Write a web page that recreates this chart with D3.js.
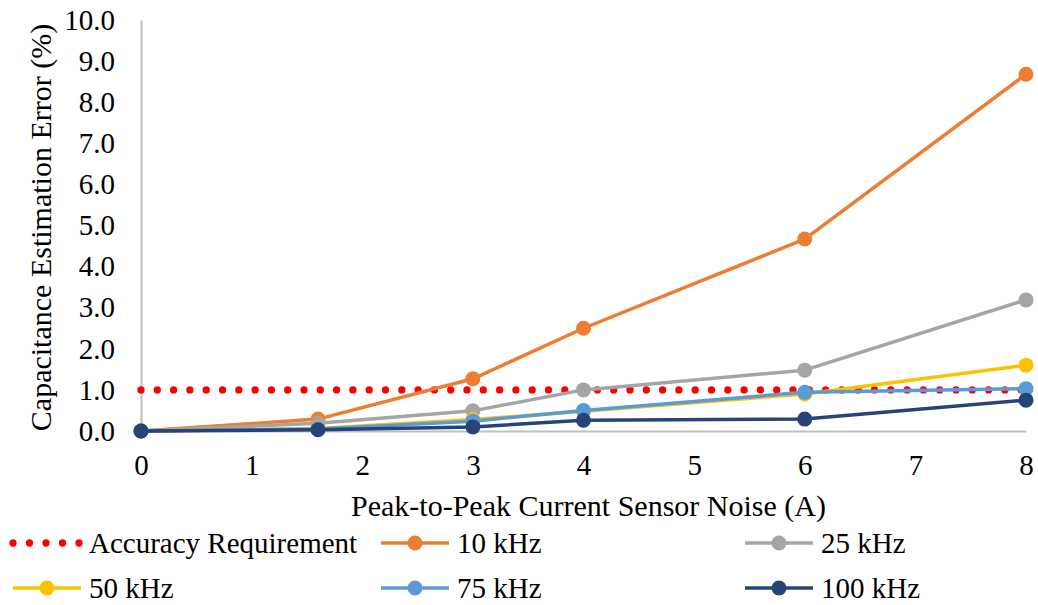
<!DOCTYPE html>
<html>
<head>
<meta charset="utf-8">
<script src="https://cdn.jsdelivr.net/npm/d3@7"></script>
<style>
  html, body { margin: 0; padding: 0; background: #fff; }
  svg { display: block; }
  text { font-family: "Liberation Serif", "Times New Roman", serif; fill: #000; }
</style>
</head>
<body>
<svg id="chart" width="1038" height="605"></svg>
<script>
// Peak-to-peak current sensor noise (A)
const noise = [0, 1.6, 3, 4, 6, 8];

// Capacitance estimation error (%) per switching frequency
const err10k  = [0, 0.29, 1.27, 2.50, 4.67, 8.68];
const err25k  = [0, 0.19, 0.49, 1.00, 1.48, 3.19];
const err50k  = [0, 0.06, 0.28, 0.48, 0.90, 1.60];
const err75k  = [0, 0.05, 0.24, 0.50, 0.94, 1.03];
const err100k = [0, 0.03, 0.10, 0.26, 0.29, 0.75];

// Accuracy requirement (%)
const requirement = 1.0;

const seriesNames  = ["10 kHz", "25 kHz", "50 kHz", "75 kHz", "100 kHz"];
const seriesValues = [err10k, err25k, err50k, err75k, err100k];
const seriesColors = ["#ED7D31", "#A5A5A5", "#FFC000", "#5B9BD5", "#264478"];

const xTicks = [0, 1, 2, 3, 4, 5, 6, 7, 8];
const yTicks = [0, 1, 2, 3, 4, 5, 6, 7, 8, 9, 10];

const svg = d3.select("#chart");
const plot = { left: 141, right: 1026, top: 20, bottom: 431 };
const FONT = "Liberation Serif, Times New Roman, serif";

const x = d3.scaleLinear().domain([0, 8]).range([plot.left, plot.right]);
const y = d3.scaleLinear().domain([0, 10]).range([plot.bottom, plot.top]);

// Axes (no tick marks, light gray axis lines)
const xAxis = svg.append("g")
  .attr("transform", `translate(0,${plot.bottom})`)
  .call(d3.axisBottom(x).tickValues(xTicks).tickFormat(d3.format("d")).tickSize(0).tickPadding(23));
const yAxis = svg.append("g")
  .attr("transform", `translate(${plot.left},0)`)
  .call(d3.axisLeft(y).tickValues(yTicks).tickFormat(d3.format(".1f")).tickSize(0).tickPadding(26));

[xAxis, yAxis].forEach(g => {
  g.attr("font-family", FONT).attr("font-size", 29);
  g.select(".domain").attr("stroke", "#BFBFBF").attr("stroke-width", 2);
  g.selectAll("text").attr("fill", "#000");
});

// Axis titles
svg.append("text")
  .attr("x", (plot.left + plot.right) / 2 + 5)
  .attr("y", 516)
  .attr("text-anchor", "middle")
  .style("font-size", "30px")
  .text("Peak-to-Peak Current Sensor Noise (A)");

svg.append("text")
  .attr("transform", `translate(51,${(plot.top + plot.bottom) / 2 + 2}) rotate(-90)`)
  .attr("text-anchor", "middle")
  .style("font-size", "30px")
  .text("Capacitance Estimation Error (%)");

// Accuracy requirement line (dotted)
svg.append("line")
  .attr("x1", x(0)).attr("x2", x(8))
  .attr("y1", y(requirement)).attr("y2", y(requirement))
  .attr("stroke", "#FF0000")
  .attr("stroke-width", 7.3)
  .attr("stroke-linecap", "round")
  .attr("stroke-dasharray", "0 16.3");

// Data series
const line = d3.line().x((d, i) => x(noise[i])).y(d => y(d));

seriesValues.forEach((vals, k) => {
  const g = svg.append("g");
  g.append("path")
    .datum(vals)
    .attr("d", line)
    .attr("fill", "none")
    .attr("stroke", seriesColors[k])
    .attr("stroke-width", 3.5)
    .attr("stroke-linejoin", "round");
  g.selectAll("circle")
    .data(vals)
    .join("circle")
    .attr("cx", (d, i) => x(noise[i]))
    .attr("cy", d => y(d))
    .attr("r", 7.5)
    .attr("fill", seriesColors[k]);
});

// Legend
const legendItems = [
  { name: "Accuracy Requirement", color: "#FF0000", dotted: true },
  ...seriesNames.map((n, k) => ({ name: n, color: seriesColors[k], dotted: false }))
];
const colX = [13, 381, 745];
const rowY = [543, 588];

legendItems.forEach((item, i) => {
  const cx = colX[i % 3];
  const cy = rowY[Math.floor(i / 3)];
  const g = svg.append("g").attr("transform", `translate(${cx},${cy})`);
  if (item.dotted) {
    g.append("line")
      .attr("x1", 0).attr("x2", 67).attr("y1", 0).attr("y2", 0)
      .attr("stroke", item.color).attr("stroke-width", 7.3)
      .attr("stroke-linecap", "round").attr("stroke-dasharray", "0 16.5");
  } else {
    g.append("line")
      .attr("x1", 0).attr("x2", 68).attr("y1", 0).attr("y2", 0)
      .attr("stroke", item.color).attr("stroke-width", 3.5);
    g.append("circle").attr("cx", 34).attr("cy", 0).attr("r", 7.5).attr("fill", item.color);
  }
  g.append("text")
    .attr("x", 76)
    .attr("y", 10)
    .style("font-size", "29px")
    .text(item.name);
});
</script>
</body>
</html>
